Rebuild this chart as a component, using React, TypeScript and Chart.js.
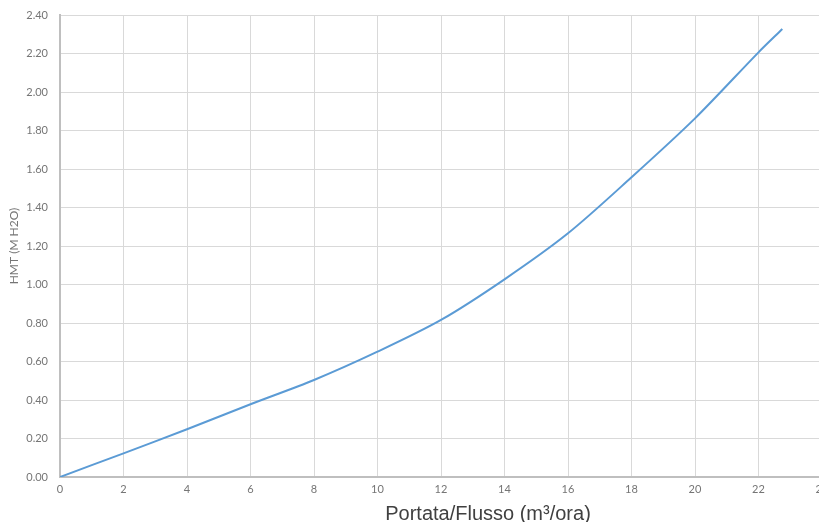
import React, { useEffect, useRef } from "react";
import { Chart, registerables } from "chart.js";

Chart.register(...registerables);

// Pump curve: flow rate (m³/h) vs head (m H2O)
const flowRates = [0, 2, 4, 6, 8, 10, 12, 14, 16, 18, 20, 22, 22.75];
const headValues = [0, 0.123, 0.248, 0.378, 0.504, 0.651, 0.816, 1.027, 1.266, 1.557, 1.863, 2.206, 2.327];

const xAxisTitle = "Portata/Flusso (m³/ora)";
const yAxisTitle = "HMT (M H2O)";

const LINE_COLOR = "#5b9bd5";
const GRID_COLOR = "#d9d9d9";
const AXIS_COLOR = "#bfbfbf";
const TICK_COLOR = "#757575";

const titlesPlugin = {
  id: "axisTitles",
  afterDraw(chart: any) {
    const { ctx, chartArea } = chart;
    ctx.save();
    // x axis title
    ctx.fillStyle = "#404040";
    ctx.font = '20px "Liberation Sans", Arial, sans-serif';
    ctx.textAlign = "center";
    ctx.textBaseline = "alphabetic";
    ctx.fillText(xAxisTitle, 488, 520);
    // y axis title, rotated
    ctx.translate(14, (chartArea.top + chartArea.bottom) / 2);
    ctx.rotate(-Math.PI / 2);
    ctx.fillStyle = TICK_COLOR;
    ctx.font = '12px Lato, sans-serif';
    ctx.textAlign = "center";
    ctx.textBaseline = "middle";
    ctx.fillText(yAxisTitle, 0, 0);
    ctx.restore();
  },
};

export default function App() {
  const canvasRef = useRef<HTMLCanvasElement | null>(null);

  useEffect(() => {
    if (!canvasRef.current) return;
    const points = flowRates.map((x, i) => ({ x, y: headValues[i] }));
    const chart = new Chart(canvasRef.current, {
      type: "scatter",
      data: {
        datasets: [
          {
            data: points,
            showLine: true,
            borderColor: LINE_COLOR,
            borderWidth: 2,
            pointRadius: 0,
            tension: 0.3,
            fill: false,
          },
        ],
      },
      options: {
        animation: false,
        responsive: false,
        maintainAspectRatio: false,
        layout: { padding: { top: 15, right: 20, left: 0, bottom: 0 } },
        plugins: {
          legend: { display: false },
          tooltip: { enabled: false },
        },
        scales: {
          x: {
            type: "linear",
            min: 0,
            max: 24,
            afterFit: (scale: any) => {
              scale.height = 45;
            },
            ticks: {
              stepSize: 2,
              color: TICK_COLOR,
              font: { family: "Lato", size: 11 },
              padding: 6,
              maxRotation: 0,
            },
            grid: { color: GRID_COLOR, drawTicks: false },
            border: { color: AXIS_COLOR, width: 2 },
          },
          y: {
            type: "linear",
            min: 0,
            max: 2.4,
            afterFit: (scale: any) => {
              scale.width = 60;
              scale.paddingTop = 0;
              scale.paddingBottom = 0;
            },
            ticks: {
              stepSize: 0.2,
              color: TICK_COLOR,
              font: { family: "Lato", size: 11 },
              padding: 12,
              callback: (v: any) => Number(v).toFixed(2),
            },
            grid: { color: GRID_COLOR, drawTicks: false },
            border: { color: AXIS_COLOR, width: 2 },
          },
        },
      },
      plugins: [titlesPlugin],
    });
    return () => chart.destroy();
  }, []);

  return (
    <div style={{ position: "fixed", left: 0, top: 0, width: 819, height: 522, overflow: "hidden", background: "#fff" }}>
      <canvas ref={canvasRef} width={842} height={522} style={{ display: "block" }} />
    </div>
  );
}
